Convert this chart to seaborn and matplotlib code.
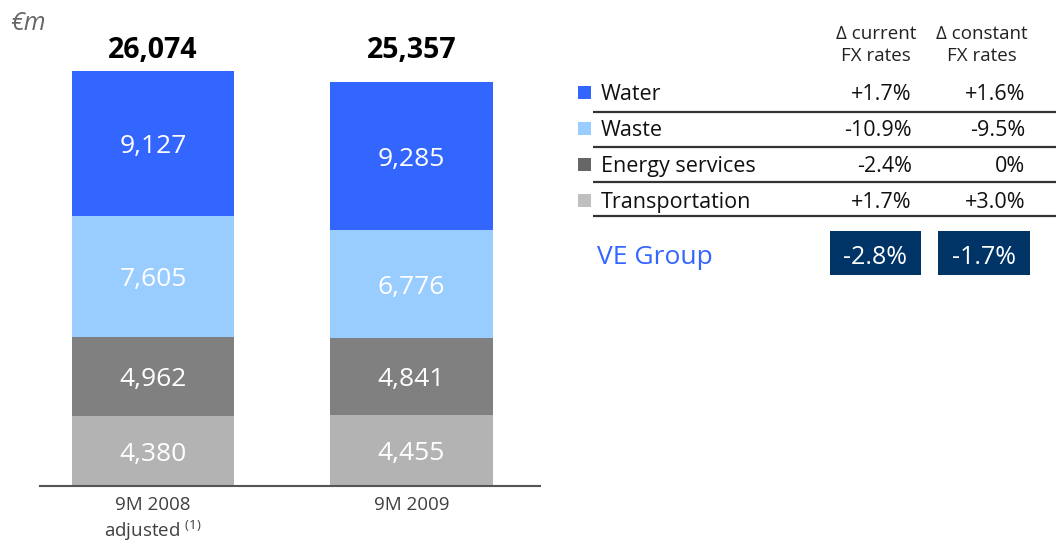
import matplotlib
matplotlib.use('Agg')
import matplotlib.pyplot as plt
import matplotlib.transforms as mtrans
from matplotlib.patches import Rectangle
import seaborn as sns
import numpy as np

# ---------------- data ----------------
periods = ['9M 2008', '9M 2009']
tick_labels = ['9M 2008\nadjusted $^{\\mathrm{(1)}}$', '9M 2009']
segments = ['Water', 'Waste', 'Energy services', 'Transportation']
water = [9127, 9285]
waste = [7605, 6776]
energy = [4962, 4841]
transport = [4380, 4455]
totals = [26074, 25357]
chg_current = ['+1.7%', '-10.9%', '-2.4%', '+1.7%']
chg_constant = ['+1.6%', '-9.5%', '0%', '+3.0%']
group_label = 'VE Group'
group_current = '-2.8%'
group_constant = '-1.7%'
unit_label = '€m'

colors = {'Water': '#3366FF', 'Waste': '#99CCFF',
          'Energy services': '#808080', 'Transportation': '#B3B3B3'}
legend_colors = {'Water': '#3366FF', 'Waste': '#99CCFF',
                 'Energy services': '#666666', 'Transportation': '#BFBFBF'}

sns.set_style('white')
plt.rcParams['font.family'] = ['Open Sans', 'DejaVu Sans']
plt.rcParams['mathtext.fontset'] = 'custom'
plt.rcParams['mathtext.rm'] = 'Open Sans'

W, H = 1056, 543
fig = plt.figure(figsize=(W / 100, H / 100), dpi=100)

# bar axes in pixel layout
ax_left, ax_right, ax_bottom, ax_top = 40, 540, 486, 10
ax = fig.add_axes([ax_left / W, 1 - ax_bottom / H,
                   (ax_right - ax_left) / W, (ax_bottom - ax_top) / H])

# stacked from bottom: transport, energy, waste, water
stack_order = [('Transportation', transport), ('Energy services', energy),
               ('Waste', waste), ('Water', water)]
cums = []
running = np.zeros(len(periods))
for name, vals in stack_order:
    bottom = running.copy()
    running = running + np.array(vals)
    cums.append((name, bottom, running.copy(), vals))

bar_w = 0.627
for name, bottom, top, vals in reversed(cums):
    sns.barplot(x=periods, y=list(top), color=colors[name], saturation=1,
                width=bar_w, linewidth=0, ax=ax)

for name, bottom, top, vals in cums:
    for i in range(len(periods)):
        ax.text(i, (bottom[i] + top[i]) / 2, f'{vals[i]:,}', ha='center',
                va='center_baseline', color='white', fontsize=19)

trans = mtrans.blended_transform_factory(ax.transData, ax.transAxes)
for i, t in enumerate(totals):
    ax.text(i, (ax_bottom - 47) / (ax_bottom - ax_top), f'{t:,}', transform=trans,
            ha='center', va='center_baseline', fontsize=20.5, fontweight='bold',
            color='black')

px_per_unit = (ax_bottom - 71) / totals[0]
ax.set_ylim(0, (ax_bottom - ax_top) / px_per_unit)
centre0, centre1 = 153, 411.5
step = centre1 - centre0
ax.set_xlim((ax_left - centre0) / step, (ax_right - centre0) / step)
ax.set_xlabel('')
ax.set_ylabel('')
ax.set_yticks([])
ax.set_xticks(range(len(periods)))
ax.set_xticklabels(tick_labels, fontsize=13.5, color='#404040', linespacing=1.25)
ax.tick_params(axis='x', length=0, pad=7)
for s in ['top', 'left', 'right']:
    ax.spines[s].set_visible(False)
ax.spines['bottom'].set_color('#555555')
ax.spines['bottom'].set_linewidth(1.5)

# ---------------- overlay in pixel coordinates ----------------
ov = fig.add_axes([0, 0, 1, 1])
ov.set_xlim(0, W)
ov.set_ylim(H, 0)
ov.axis('off')

ov.text(10, 20, unit_label, fontsize=18, style='italic', color='#666666',
        ha='left', va='center_baseline')

hdr = dict(fontsize=13.5, ha='center', va='center_baseline', color='#222222')
ov.text(876, 32, '\u0394 current', **hdr)
ov.text(876, 54, 'FX rates', **hdr)
ov.text(982, 32, '\u0394 constant', **hdr)
ov.text(982, 54, 'FX rates', **hdr)

row_y = [92, 128, 164, 200]
line_y = [112, 147, 182, 216]
for k, seg in enumerate(segments):
    y = row_y[k]
    ov.add_patch(Rectangle((578, y - 6), 13, 13, facecolor=legend_colors[seg],
                           edgecolor='none'))
    ov.text(601, y, seg, fontsize=15.5, ha='left', va='center_baseline', color='#111111')
    ov.text(912, y, chg_current[k], fontsize=15.5, ha='right', va='center_baseline',
            color='#111111')
    ov.text(1025, y, chg_constant[k], fontsize=15.5, ha='right', va='center_baseline',
            color='#111111')
    ov.plot([593, W], [line_y[k], line_y[k]], color='#333333', lw=1.6,
            solid_capstyle='butt')

ov.text(597, 254, group_label, fontsize=19, ha='left', va='center_baseline',
        color='#3366FF')
for (x0, x1), val in zip([(830, 921), (938, 1030)], [group_current, group_constant]):
    ov.add_patch(Rectangle((x0, 231), x1 - x0, 44, facecolor='#003366', edgecolor='none'))
    ov.text((x0 + x1) / 2, 254, val, fontsize=18, ha='center', va='center_baseline',
            color='white')

fig.savefig('out.png', dpi=100)
